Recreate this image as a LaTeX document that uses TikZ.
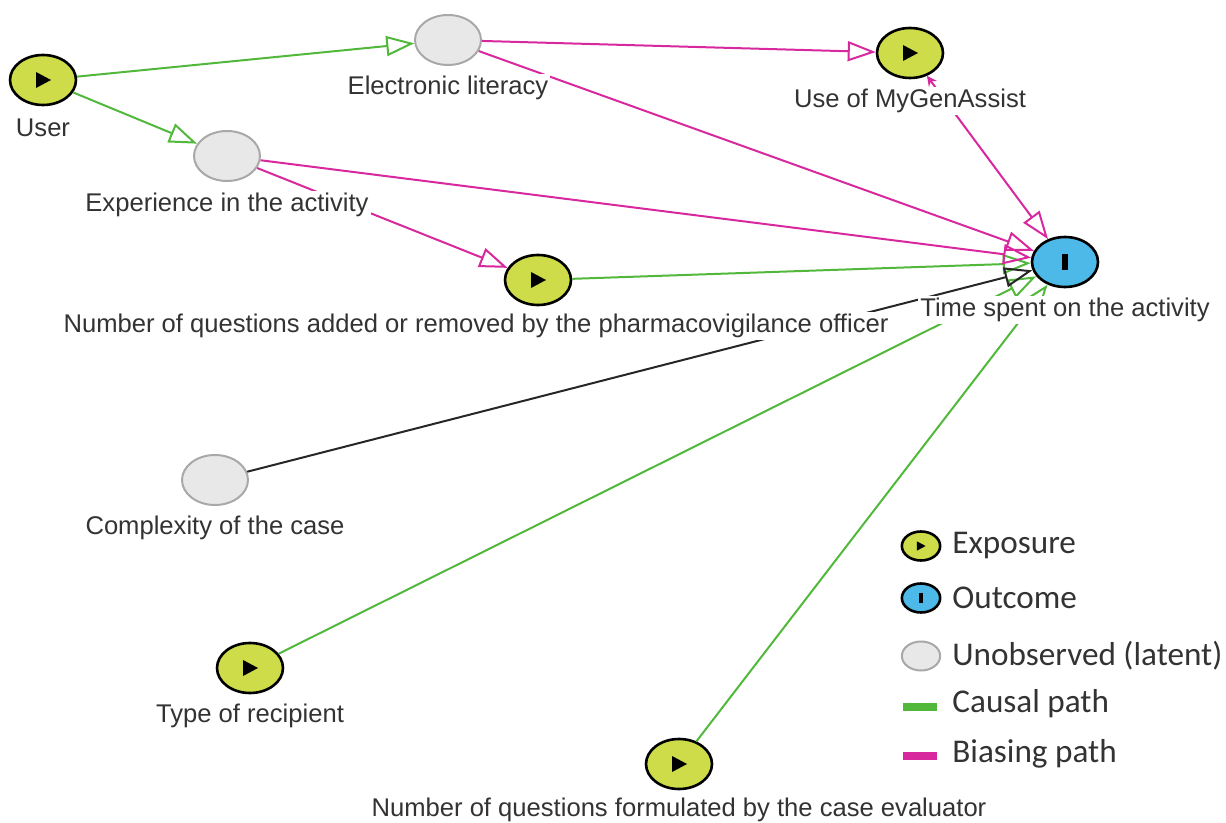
\documentclass[tikz,border=0pt]{standalone}
\usepackage{fontspec}
\setmainfont{Liberation Sans}
\newfontfamily\legendfont{Carlito}
\usetikzlibrary{shapes.geometric,arrows.meta}

\definecolor{expofill}{HTML}{CEDC4A}
\definecolor{outfill}{HTML}{4CB9E8}
\definecolor{latfill}{HTML}{E8E8E8}
\definecolor{latline}{HTML}{A8A8A8}
\definecolor{causal}{HTML}{52B83C}
\definecolor{biasing}{HTML}{D8289E}
\definecolor{labeltext}{HTML}{333333}

\tikzset{
  expo/.style={ellipse, draw=black, line width=1.3pt, fill=expofill,
    minimum width=33pt*#1, minimum height=25pt*#1, inner sep=0pt,
    path picture={\fill[black] ([shift={(-3.5pt*#1,4pt*#1)}]path picture bounding box.center)
      -- ++(7.5pt*#1,-4pt*#1) -- ++(-7.5pt*#1,-4pt*#1) -- cycle;}},
  expo/.default=1,
  outcome/.style={ellipse, draw=black, line width=1.3pt, fill=outfill,
    minimum width=33pt*#1, minimum height=25pt*#1, inner sep=0pt,
    path picture={\fill[black] ([shift={(-1.6pt*#1,4pt*#1)}]path picture bounding box.center)
      rectangle ++(3.2pt*#1,-8pt*#1);}},
  outcome/.default=1,
  latent/.style={ellipse, draw=latline, line width=1pt, fill=latfill,
    minimum width=33pt*#1, minimum height=25pt*#1, inner sep=0pt},
  latent/.default=1,
  lbl/.style={fill=white, text=labeltext, inner sep=1pt,
    font=\fontsize{12.8}{15}\selectfont},
  legtext/.style={anchor=west, text=labeltext, inner sep=0pt,
    font=\legendfont\fontsize{16.6}{19}\selectfont},
  tip/.style={-{Triangle[open, length=14pt, width=10pt]}},
  causalpath/.style={draw=causal, line width=1pt, tip},
  biaspath/.style={draw=biasing, line width=1pt, tip},
  plainpath/.style={draw=black!85, line width=1pt, tip},
}

\begin{document}
\begin{tikzpicture}[x=0.5pt,y=-0.5pt]

  % page size of the reference
  \useasboundingbox (0,0) rectangle (1226,823);

  % variables
  \node[expo] (user) at (43,80) {};
  \node[latent] (elit) at (448,40) {};
  \node[expo] (mga) at (910,53) {};
  \node[latent] (exper) at (227,156) {};
  \node[expo] (nqadd) at (538,280) {};
  \node[outcome] (time) at (1065,262) {};
  \node[latent] (cplx) at (215,480) {};
  \node[expo] (recip) at (250,668) {};
  \node[expo] (nqform) at (679,764) {};

  % causal paths
  \draw[causalpath] (user) -- (elit);
  \draw[causalpath] (user) -- (exper);
  \draw[causalpath] (nqadd) -- (time);
  \draw[causalpath] (recip) -- (time);
  \draw[causalpath] (nqform) -- (time);

  % biasing paths
  \draw[biaspath] (elit) -- (mga);
  \draw[biaspath] (elit) -- (time);
  \draw[biaspath] (exper) -- (time);
  \draw[biaspath] (exper) -- (nqadd);
  \draw[biaspath, {Stealth[length=5pt, width=5pt]}-{Triangle[open, length=14pt, width=10pt]}] (mga) -- (time);

  % other path
  \draw[plainpath] (cplx) -- (time);

  % names of the variables (on top of the paths)
  \node[lbl] (userL) at (43,128) {User};
  \node[lbl] (elitL) at (448,88) {Electronic literacy};
  \node[lbl] (mgaL) at (910,101) {Use of MyGenAssist};
  \node[lbl] (experL) at (227,205) {Experience in the activity};
  \node[lbl] (nqaddL) at (476,326) {Number of questions added or removed by the pharmacovigilance officer};
  \node[lbl] (timeL) at (1065,310) {Time spent on the activity};
  \node[lbl] (cplxL) at (215,528) {Complexity of the case};
  \node[lbl] (recipL) at (250,716) {Type of recipient};
  \node[lbl] (nqformL) at (679,810) {Number of questions formulated by the case evaluator};

  % legend
  \node[expo=0.58] (legExpo) at (921,546) {};
  \node[legtext] (legExpoT) at (952,546) {Exposure};
  \node[outcome=0.58] (legOut) at (921,598) {};
  \node[legtext] (legOutT) at (952,598) {Outcome};
  \node[latent=0.58] (legLat) at (921,656) {};
  \node[legtext] (legLatT) at (952,656) {Unobserved (latent)};
  \fill[causal] (903,703) rectangle (937,711);
  \node[legtext] (legCauT) at (952,704) {Causal path};
  \fill[biasing] (903,752) rectangle (937,760);
  \node[legtext] (legBiaT) at (952,754) {Biasing path};

\end{tikzpicture}
\end{document}
